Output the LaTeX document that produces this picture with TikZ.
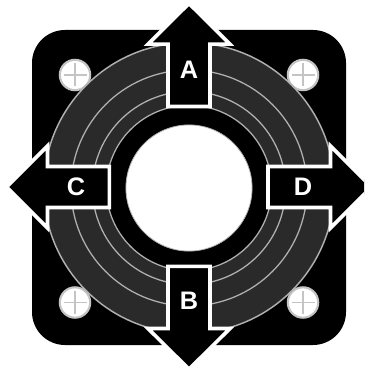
\documentclass[tikz,border=0pt]{standalone}
\usepackage{fontspec}
\setmainfont{Liberation Sans}
\definecolor{ringfill}{HTML}{2A2A2A}
\definecolor{ringline}{HTML}{B0B0B0}
\definecolor{screwline}{HTML}{C4C4C4}
\tikzset{
  px/.style={x=0.75pt,y=-0.75pt},
  board/.style={fill=black,rounded corners=24.75pt},
  ringdisc/.style={fill=ringfill,draw=ringline,line width=1.1pt},
  ringthin/.style={draw=ringline,line width=0.95pt},
  hole/.style={fill=white,draw=ringline,line width=0.6pt},
  screwhead/.style={fill=white,draw=screwline,line width=1.6pt},
  screwcross/.style={draw=screwline,line width=1.1pt},
  arrowshape/.style={fill=black,draw=white,line width=2.7pt,miter limit=10},
  lab/.style={text=white,font=\bfseries\fontsize{19}{21}\selectfont,inner sep=0pt,anchor=center}
}
\newcommand{\screwat}[2]{%
  \draw[screwhead] (#1,#2) circle[radius=11.4pt];
  \draw[screwcross] (#1-11.5,#2) -- (#1+11.5,#2) (#1,#2-11.5) -- (#1,#2+11.5);
}
\begin{document}
\begin{tikzpicture}[px]
\useasboundingbox (0,0) rectangle (364,370);
\begin{scope}
\clip (0,0) rectangle (364,370);
\fill[board] (32,30) rectangle (346,345);
\screwat{75}{75}
\screwat{303}{75}
\screwat{75}{302.5}
\screwat{303}{302.5}
\coordinate (c) at (189,188);
\draw[ringdisc] (c) circle[radius=109pt];
\draw[ringthin] (c) circle[radius=88.5pt];
\draw[ringthin] (c) circle[radius=72.4pt];
\draw[ringthin,fill=black] (c) circle[radius=62pt];
\draw[hole] (c) circle[radius=47.3pt];
\draw[arrowshape] (168,106.5) -- (168,44.2) -- (148,44.2) -- (189,3.5) -- (230,44.2) -- (210,44.2) -- (210,106.5) -- cycle;
\draw[arrowshape] (168,266.3) -- (168,328.5) -- (148,328.5) -- (189,369.2) -- (230,328.5) -- (210,328.5) -- (210,266.3) -- cycle;
\draw[arrowshape] (109.3,166.5) -- (47.5,166.5) -- (47.5,146) -- (6.5,187) -- (47.5,228) -- (47.5,207.5) -- (109.3,207.5) -- cycle;
\draw[arrowshape] (268,166.5) -- (330.5,166.5) -- (330.5,146) -- (371.5,187) -- (330.5,228) -- (330.5,207.5) -- (268,207.5) -- cycle;
\end{scope}
\node[lab] (a) at (189,70) {A};
\node[lab] (b) at (189,301) {B};
\node[lab] (cc) at (76,187) {C};
\node[lab] (d) at (303,187) {D};
\end{tikzpicture}
\end{document}
